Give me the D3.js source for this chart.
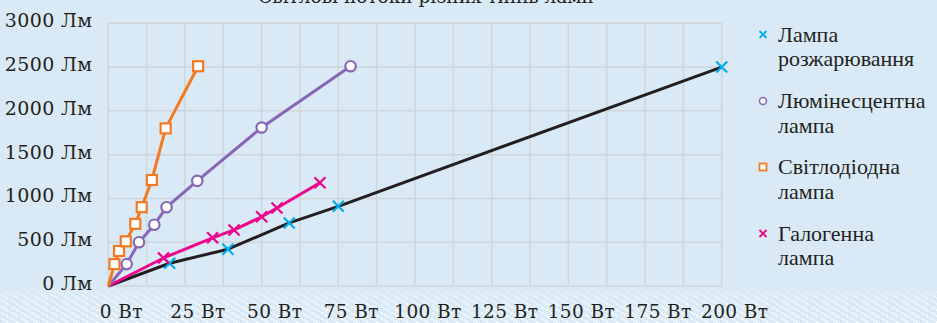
<!DOCTYPE html>
<html>
<head>
<meta charset="utf-8">
<script src="https://cdn.jsdelivr.net/npm/d3@7"></script>
<style>
  html, body { margin: 0; padding: 0; background: #d9eaf6; }
  #chart { width: 937px; height: 323px; }
  .ax { font-family: "DejaVu Serif", "Liberation Serif", serif; }
  .lg { font-family: "Liberation Serif", serif; }
</style>
</head>
<body>
<div id="chart"></div>
<script>
var title = "Світлові потоки різних типів ламп";
var xTicks = [0, 25, 50, 75, 100, 125, 150, 175, 200];
var yTicks = [0, 500, 1000, 1500, 2000, 2500, 3000];
var xUnit = "Вт";
var yUnit = "Лм";

// [Вт, Лм]
var incandescent = [[0, 0], [20, 260], [39, 420], [59, 720], [75, 910], [200, 2500]];
var fluorescent = [[0, 0], [6, 250], [10, 500], [15, 700], [19, 900], [29, 1200], [50, 1810], [79, 2510]];
var led = [[0, 0], [2, 250], [3.5, 400], [5.7, 510], [8.8, 710], [10.9, 900], [14.2, 1210], [18.7, 1800], [29.3, 2510]];
var halogen = [[0, 0], [18, 320], [34, 550], [41, 640], [50, 790], [55, 890], [69, 1180]];

var seriesNames = [["Лампа", "розжарювання"], ["Люмінесцентна", "лампа"], ["Світлодіодна", "лампа"], ["Галогенна", "лампа"]];

function draw() {
  var container = d3.select("#chart");
  var width = 937;
  var height = 323;

  container.selectAll("*").remove();
  var svg = container
    .append("svg")
    .attr("width", width)
    .attr("height", height);

  var bg = "#d9eaf6";
  var ink = "#231f20";
  var gridCol = "#cfd5da";

  svg.append("rect")
    .attr("width", width)
    .attr("height", height)
    .attr("fill", bg);

  // dotted band at the bottom
  var defs = svg.append("defs");
  var pat = defs.append("pattern")
    .attr("id", "dots")
    .attr("patternUnits", "userSpaceOnUse")
    .attr("width", 10)
    .attr("height", 6);
  [[1, 0], [6, 3], [3.5, 1.5], [8.5, 4.5]].forEach(p => {
    pat.append("rect")
      .attr("x", p[0]).attr("y", p[1])
      .attr("width", 2).attr("height", 2)
      .attr("fill", "white");
  });
  var grad = defs.append("linearGradient")
    .attr("id", "fade")
    .attr("x1", 0).attr("y1", 0).attr("x2", 0).attr("y2", 1);
  grad.append("stop").attr("offset", "0").attr("stop-color", "white").attr("stop-opacity", 0.1);
  grad.append("stop").attr("offset", "0.25").attr("stop-color", "white").attr("stop-opacity", 0.7);
  grad.append("stop").attr("offset", "1").attr("stop-color", "white").attr("stop-opacity", 1);
  defs.append("mask")
    .attr("id", "fadeMask")
    .append("rect")
    .attr("x", 0).attr("y", 289)
    .attr("width", width).attr("height", 34)
    .attr("fill", "url(#fade)");
  svg.append("rect")
    .attr("x", 0).attr("y", 289)
    .attr("width", width).attr("height", 34)
    .attr("fill", "url(#dots)")
    .attr("opacity", 0.85)
    .attr("mask", "url(#fadeMask)");

  var scX = d3.scaleLinear()
    .domain([0, 200])
    .range([108.3, 721.7]);
  var scY = d3.scaleLinear()
    .domain([0, 3000])
    .range([286, 23.3]);

  // grid
  var g = svg.append("g");
  g.append("g")
    .selectAll("line")
    .data(d3.range(0, 200.1, 12.5))
    .enter()
    .append("line")
    .attr("x1", d => scX(d)).attr("x2", d => scX(d))
    .attr("y1", scY(3000)).attr("y2", scY(0))
    .attr("stroke", gridCol)
    .attr("stroke-width", 1.5);
  g.append("g")
    .selectAll("line")
    .data(yTicks)
    .enter()
    .append("line")
    .attr("x1", scX(0)).attr("x2", scX(200))
    .attr("y1", d => scY(d)).attr("y2", d => scY(d))
    .attr("stroke", gridCol)
    .attr("stroke-width", 1.5);

  // axis labels
  svg.append("g")
    .selectAll("text")
    .data(yTicks)
    .enter()
    .append("text")
    .attr("class", "ax")
    .attr("x", 92.5)
    .attr("y", d => scY(d) + 4)
    .attr("text-anchor", "end")
    .attr("font-size", 19)
    .attr("letter-spacing", 0.4)
    .attr("fill", ink)
    .text(d => d + " " + yUnit);
  svg.append("g")
    .selectAll("text")
    .data(xTicks)
    .enter()
    .append("text")
    .attr("class", "ax")
    .attr("x", d => scX(d) + 13)
    .attr("y", 317.5)
    .attr("text-anchor", "middle")
    .attr("font-size", 18.5)
    .attr("letter-spacing", 0.4)
    .attr("fill", ink)
    .text(d => d + " " + xUnit);

  svg.append("text")
    .attr("class", "ax")
    .attr("x", 426)
    .attr("y", 3)
    .attr("text-anchor", "middle")
    .attr("font-size", 18.5)
    .attr("fill", ink)
    .text(title);

  var line = d3.line()
    .x(d => scX(d[0]))
    .y(d => scY(d[1]));

  var cross = s => `M${-s},${-s}L${s},${s}M${-s},${s}L${s},${-s}`;

  var series = [
    { data: incandescent, line: "#231f20", mark: "#00aeef", type: "x" },
    { data: fluorescent, line: "#8767b5", mark: "#8767b5", type: "o" },
    { data: led, line: "#f47920", mark: "#f47920", type: "s" },
    { data: halogen, line: "#ec058c", mark: "#ec058c", type: "x" }
  ];

  var order = [0, 3, 1, 2];
  order.forEach(i => {
    var s = series[i];
    var sg = svg.append("g");
    sg.append("path")
      .attr("d", line(s.data))
      .attr("fill", "none")
      .attr("stroke", s.line)
      .attr("stroke-width", 3)
      .attr("stroke-linejoin", "round");
    var pts = sg.selectAll(".pt")
      .data(s.data.slice(1))
      .enter()
      .append("g")
      .attr("transform", d => `translate(${scX(d[0])},${scY(d[1])})`);
    if (s.type === "x") {
      pts.append("path")
        .attr("d", cross(5.5))
        .attr("stroke", s.mark)
        .attr("stroke-width", 2.2)
        .attr("fill", "none");
    } else if (s.type === "o") {
      pts.append("circle")
        .attr("r", 5.2)
        .attr("fill", "white")
        .attr("stroke", s.mark)
        .attr("stroke-width", 2.2);
    } else {
      pts.append("rect")
        .attr("x", -5).attr("y", -5)
        .attr("width", 10).attr("height", 10)
        .attr("fill", "white")
        .attr("stroke", s.mark)
        .attr("stroke-width", 2.2);
    }
  });

  // legend
  var lg = svg.append("g");
  var itemY = [41.5, 108, 174, 240.5];
  series.forEach((s, i) => {
    var m = lg.append("g")
      .attr("transform", `translate(763,${itemY[i] - 7})`);
    if (s.type === "x") {
      m.append("path")
        .attr("d", cross(3.5))
        .attr("stroke", s.mark)
        .attr("stroke-width", 1.8);
    } else if (s.type === "o") {
      m.append("circle")
        .attr("r", 3.5)
        .attr("fill", "white")
        .attr("stroke", s.mark)
        .attr("stroke-width", 1.6);
    } else {
      m.append("rect")
        .attr("x", -3.5).attr("y", -3.5)
        .attr("width", 7).attr("height", 7)
        .attr("fill", "white")
        .attr("stroke", s.mark)
        .attr("stroke-width", 1.8);
    }
    seriesNames[i].forEach((t, k) => {
      lg.append("text")
        .attr("class", "lg")
        .attr("x", 778)
        .attr("y", itemY[i] + k * 24.5)
        .attr("font-size", 22)
        .attr("fill", ink)
        .text(t);
    });
  });
}

draw();
</script>
</body>
</html>
